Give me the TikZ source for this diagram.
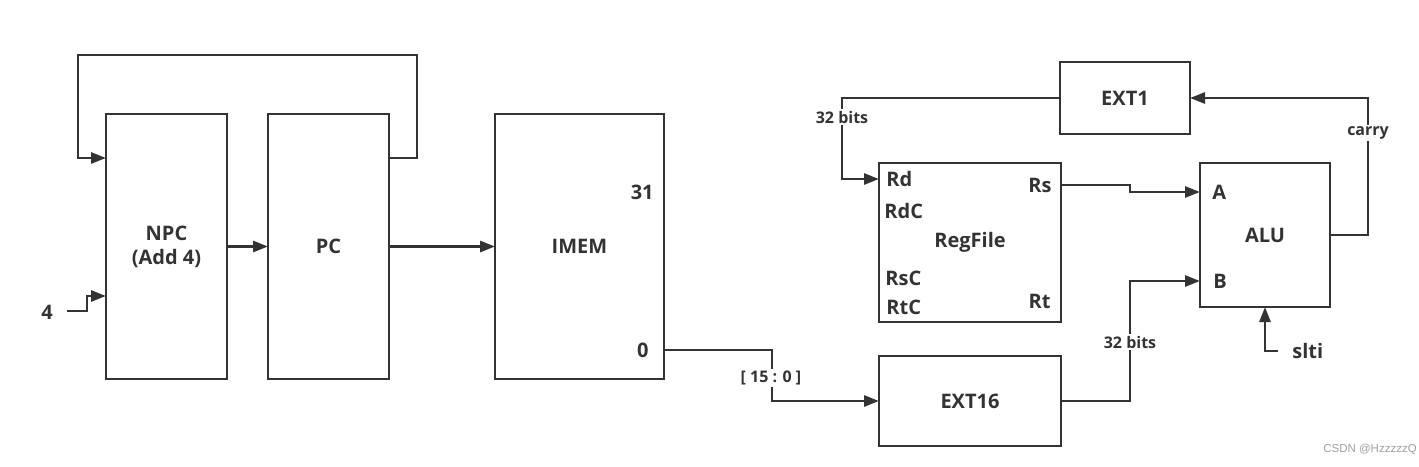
\documentclass[tikz,border=0pt]{standalone}
\usepackage{fontspec}
\setmainfont{Open Sans}
\newfontfamily\markfont{Liberation Sans}
\usetikzlibrary{arrows.meta}
\definecolor{ink}{HTML}{333333}
\tikzset{>={Triangle[length=15pt,width=11pt]}}
\tikzset{
    blk/.style={draw=ink, line width=2.8pt, anchor=north west, outer sep=0pt, inner sep=0pt,
        align=center, text=ink, font=\fontsize{20}{24}\selectfont\bfseries},
    port/.style={text=ink, inner sep=0pt, font=\fontsize{20}{24}\selectfont\bfseries},
    tag/.style={text=ink, fill=white, inner sep=2pt, font=\fontsize{16}{19}\selectfont\bfseries},
}
\newcommand{\blockbox}[6]{
    \node[blk, minimum width=#4pt, minimum height=#5pt] (#1) at (#2,#3) {#6};
}

\begin{document}
\begin{tikzpicture}[x=1pt,y=-1pt,line width=2.8pt,draw=ink]
            \useasboundingbox (0,0) rectangle (1419,466);
            \blockbox{NPC}{106}{114}{121}{265}{NPC\\(Add 4)}
            \blockbox{PC}{268}{114}{121}{265}{PC}
            \blockbox{IMEM}{495}{114}{169}{265}{IMEM}
            \blockbox{EXT1}{1060}{62}{130}{72}{EXT1}
            \blockbox{RegFile}{879}{163}{182}{159}{RegFile}
            \blockbox{EXT16}{879}{356}{182}{90}{EXT16}
            \blockbox{ALU}{1200}{163}{130}{144}{ALU}
            \node[port] (four) at (47,312) {4};
            \node[port, anchor=east] (p31) at (655,192) {31};
            \node[port, anchor=east] (pzero) at (650,350) {0};
            \node[port, anchor=west] (pRd) at (885,179) {Rd};
            \node[port, anchor=west] (pRdC) at (883,211) {RdC};
            \node[port, anchor=west] (pRsC) at (884,278) {RsC};
            \node[port, anchor=west] (pRtC) at (885,307) {RtC};
            \node[port, anchor=east] (pRs) at (1053,185) {Rs};
            \node[port, anchor=east] (pRt) at (1052,301) {Rt};
            \node[port, anchor=west] (pA) at (1211,192) {A};
            \node[port, anchor=west] (pB) at (1212,281) {B};
            \node[port, anchor=west] (slti) at (1291,351) {slti};
            \coordinate (in4) at (67,311);
            \draw[->] (in4) -- (87,311) |- (NPC.west |- 0,296);
            \draw[->] (NPC.east) -- (PC.west);
            \draw[->] (PC.east |- 0,158) -| (417,55) -| (78,158) -- (NPC.west |- 0,158);
            \draw[->] (PC.east) -- (IMEM.west);
            \draw[->] (IMEM.east |- pzero) -| ([xshift=-107pt]EXT16.west) -- (EXT16.west);
            \draw[->] (EXT1.west) -| ([xshift=-37pt]RegFile.west |- pRd) -- (RegFile.west |- pRd);
            \draw[->] (RegFile.east |- pRs) -| ([xshift=-70pt]ALU.west |- pA) -- (ALU.west |- pA);
            \draw[->] (EXT16.east) -| ([xshift=-70pt]ALU.west |- pB) -- (ALU.west |- pB);
            \draw[->] (ALU.east) -| ([xshift=178pt]EXT1.east) -- (EXT1.east);
            \draw[->] ([xshift=-13pt]slti.west) -| (ALU.south);
            \node[tag] (bitsRd) at (842,117) {32 bits};
            \node[tag] (bitsB) at (1130,342) {32 bits};
            \node[tag] (slice) at (771,378) {[ 15 : 0 ]};
            \node[tag] (carry) at (1368,133) {carry};
            \node[text=gray!75, inner sep=0pt, font=\markfont\fontsize{11.5}{13}\selectfont] (mark) at (1370,449) {CSDN @HzzzzzQ};
        \end{tikzpicture}
\end{document}
